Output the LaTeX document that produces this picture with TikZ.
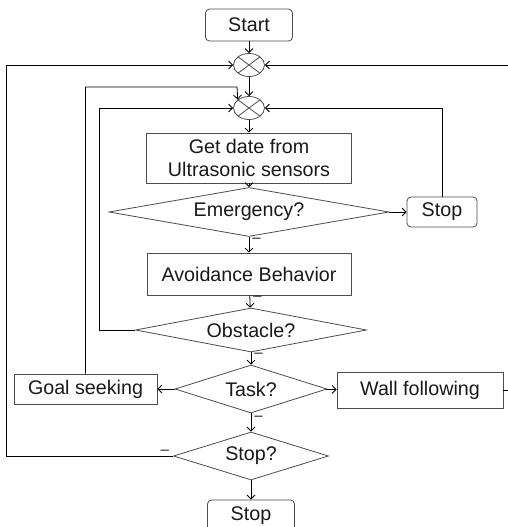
\documentclass[tikz,border=0pt]{standalone}
\usepackage{fontspec}
\setmainfont{Liberation Sans}
\usetikzlibrary{shapes.geometric,arrows.meta}

\begin{document}
\begin{tikzpicture}[x=1pt,y=-1pt,line width=0.8pt,
    every node/.style={font=\fontsize{19.7}{23.5}\selectfont, text=black!90},
    >={Straight Barb[length=4pt,width=8pt]},
    proc/.style={draw=black!70, rectangle, inner sep=0pt},
    term/.style={draw=black!70, rectangle, rounded corners=4pt, inner sep=0pt, minimum width=87pt, minimum height=32pt},
    decide/.style={draw=black!70, diamond, inner sep=0pt},
    merge/.style={draw=black!70, ellipse, minimum width=31pt, minimum height=23pt, inner sep=0pt,
        path picture={\draw[black!70] (path picture bounding box.north west) -- (path picture bounding box.south east)
            (path picture bounding box.south west) -- (path picture bounding box.north east);}},
    minus/.style={font=\fontsize{15}{15}\selectfont, inner sep=1pt}]
    \useasboundingbox (0,0) rectangle (507,527);
    % main column
    \node[term] (start) at (249,25) {Start};
    \node[merge] (m1) at (249,65) {};
    \node[merge] (m2) at (249,108) {};
    \node[proc, minimum width=205pt, minimum height=50pt, align=center] (data) at (249,158) {Get date from\\Ultrasonic sensors};
    \node[decide, minimum width=280pt, minimum height=49pt, aspect=5.7] (emerg) at (249,212) {Emergency?};
    \node[term, minimum width=70pt, minimum height=30pt] (stopR) at (442,212) {Stop};
    \node[proc, minimum width=204pt, minimum height=42pt] (avoid) at (249,274) {Avoidance Behavior};
    \node[decide, minimum width=231pt, minimum height=44pt, aspect=5.25] (obst) at (251,330) {Obstacle?};
    \node[decide, minimum width=152pt, minimum height=48pt, aspect=3.2] (task) at (251,389) {Task?};
    \node[proc, minimum width=143pt, minimum height=30pt] (goal) at (85.5,389) {Goal seeking};
    \node[proc, minimum width=166pt, minimum height=36pt] (wall) at (420,390) {Wall following};
    \node[decide, minimum width=155pt, minimum height=48pt, aspect=3.2] (stopq) at (251,456) {Stop?};
    \node[term] (stopB) at (251,516) {Stop};
    \coordinate (kink) at (237,87);

    \draw[->] (start) -- (m1);
    \draw[->] (m1) -- (m2);
    \draw[->] (m2) -- (data);
    \draw[->] (data) -- (emerg);
    \draw[->] (emerg) -- (stopR);
    \draw[->] (stopR.north) |- (m2.east);
    \draw[->] (emerg) -- node[minus, right=2pt, pos=0.25]{--} (avoid);
    \draw[->] (avoid) -- node[minus, right=2pt, pos=0.25]{--} (obst);
    \draw[->] (obst.west) -- ++(-35.5,0) |- (m2.west);
    \draw[->] (obst) -- node[minus, right=2pt, pos=0.25]{--} (task);
    \draw[->] (task) -- (goal);
    \draw[->] (task) -- (wall);
    \draw[->] (goal.north) |- (kink) -- (m2.north west);
    \draw[->] (wall.east) -- ++(12,0) |- (m1.east);
    \draw[->] (task) -- node[minus, right=2pt, pos=0.25]{--} (stopq);
    \draw[->] (stopq.west) -- node[minus, above, pos=0.05]{--} ++(-166.5,0) |- (m1.west);
    \draw[->] (stopq) -- (stopB);
\end{tikzpicture}
\end{document}
